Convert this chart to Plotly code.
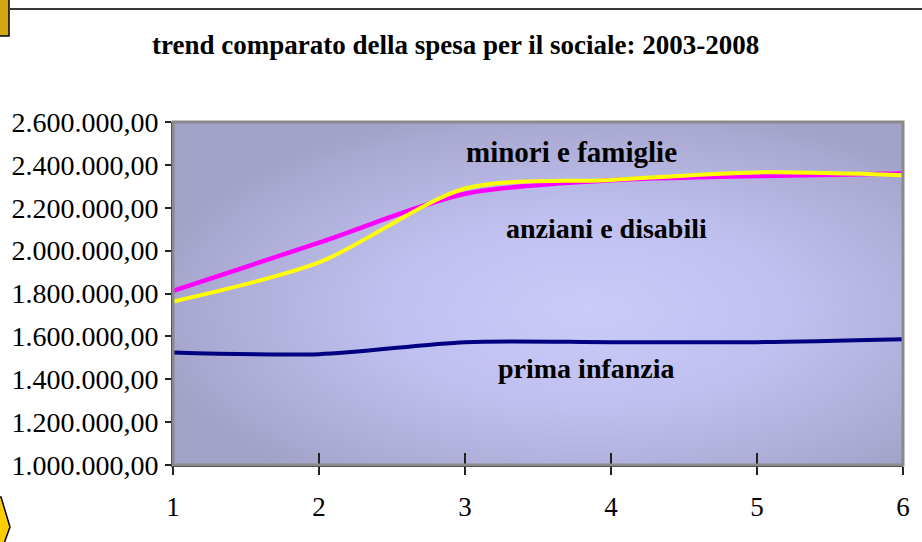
import base64
import plotly.graph_objects as go

# ---- data ----
years = [1, 2, 3, 4, 5, 6]
minori_famiglie = [1812000, 2037000, 2265000, 2328000, 2348000, 2360000]
anziani_disabili = [1762000, 1945000, 2290000, 2330000, 2365000, 2352000]
prima_infanzia = [1525000, 1517000, 1573000, 1573000, 1573000, 1587000]
x_ticks = [1, 2, 3, 4, 5, 6]

title_text = "trend comparato della spesa per il sociale: 2003-2008"
labels = [
    ("minori e famiglie", 3.73, 2458000, 29),
    ("anziani e disabili", 3.97, 2101000, 28),
    ("prima infanzia", 3.83, 1450000, 28),
]

W, H = 922, 542
L, R, T, B = 173, 903, 122, 465

def px(xp):
    return (xp - L) / (R - L)

def py(yp):
    return (B - yp) / (B - T)

svg = (
    '<svg xmlns="http://www.w3.org/2000/svg" width="730" height="343" viewBox="0 0 730 343" preserveAspectRatio="none">'
    '<defs><radialGradient id="g" cx="0.57" cy="0.55" r="0.62" fx="0.57" fy="0.55">'
    '<stop offset="0" stop-color="#cbcbfa"/>'
    '<stop offset="0.45" stop-color="#c0c0f0"/>'
    '<stop offset="1" stop-color="#a2a2c8"/>'
    '</radialGradient></defs>'
    '<rect x="0" y="0" width="730" height="343" fill="url(#g)"/></svg>'
)
svg_uri = "data:image/svg+xml;base64," + base64.b64encode(svg.encode()).decode()

fig = go.Figure()
fig.add_trace(go.Scatter(x=years, y=prima_infanzia, mode="lines",
                         line=dict(color="#000080", width=4, shape="spline", smoothing=0.8),
                         name="prima infanzia"))
fig.add_trace(go.Scatter(x=years, y=minori_famiglie, mode="lines",
                         line=dict(color="#ff00ff", width=4.5, shape="spline", smoothing=0.8),
                         name="minori e famiglie"))
fig.add_trace(go.Scatter(x=years, y=anziani_disabili, mode="lines",
                         line=dict(color="#ffff00", width=4, shape="spline", smoothing=0.8),
                         name="anziani e disabili"))

for txt, xv, yv, fs in labels:
    fig.add_annotation(x=xv, y=yv, text="<b>" + txt + "</b>", showarrow=False,
                       font=dict(family="Liberation Serif", size=fs, color="black"),
                       xanchor="center", yanchor="middle")

fig.add_annotation(x=px(455), y=py(45), xref="paper", yref="paper",
                   text="<b>" + title_text + "</b>", showarrow=False,
                   font=dict(family="Liberation Serif", size=27, color="black"),
                   xanchor="center", yanchor="middle")

shapes = [
    # plot frame (gray)
    dict(type="rect", xref="paper", yref="paper", x0=0, x1=1, y0=0, y1=1,
         line=dict(color="#8a8a8a", width=3), layer="above"),
    # top rule
    dict(type="line", xref="paper", yref="paper", x0=px(10), x1=px(922), y0=py(9), y1=py(9),
         line=dict(color="#3a3a3a", width=2)),
    # gold box top-left
    dict(type="rect", xref="paper", yref="paper", x0=px(-2), x1=px(9), y0=py(-2), y1=py(36),
         fillcolor="#d4a514", line=dict(color="#000000", width=1.5)),
    # yellow arrow bottom-left
    dict(type="path", xref="paper", yref="paper",
         path="M %f,%f L %f,%f L %f,%f L %f,%f Z" % (px(-2), py(497), px(1), py(497),
                                                      px(10), py(527), px(-2), py(560)),
         fillcolor="#ffcc00", line=dict(color="#000000", width=1.5)),
]

fig.update_layout(
    width=W, height=H,
    margin=dict(l=L, r=W - R, t=T, b=H - B, pad=0, autoexpand=False),
    paper_bgcolor="white",
    plot_bgcolor="rgba(0,0,0,0)",
    separators=",.",
    showlegend=False,
    shapes=shapes,
    images=[dict(source=svg_uri, xref="paper", yref="paper", x=0, y=1, sizex=1, sizey=1,
                 sizing="stretch", layer="below", xanchor="left", yanchor="top")],
    font=dict(family="Liberation Serif", color="black"),
    xaxis=dict(range=[1, 6], tickvals=x_ticks, ticktext=[str(v) for v in x_ticks],
               automargin=False,
               showgrid=False, zeroline=False, showline=True, linecolor="#222222", linewidth=2,
               ticks="outside", ticklen=8, tickcolor="#222222", tickwidth=1.5,
               tickfont=dict(size=27, family="Liberation Serif"), ticklabelstandoff=9),
    yaxis=dict(range=[1000000, 2600000], dtick=200000, tickformat=",.2f",
               automargin=False,
               showgrid=False, zeroline=False, showline=True, linecolor="#222222", linewidth=2,
               ticks="outside", ticklen=6, tickcolor="#222222", tickwidth=1.5,
               tickfont=dict(size=28, family="Liberation Serif"), ticklabelstandoff=1),
    xaxis2=dict(range=[1, 6], tickvals=x_ticks, overlaying="x", showticklabels=False,
                automargin=False,
                showgrid=False, zeroline=False, ticks="inside", ticklen=12,
                tickcolor="#222222", tickwidth=1.5, anchor="y"),
)
fig.add_trace(go.Scatter(x=[None], y=[None], xaxis="x2", showlegend=False, hoverinfo="skip"))

fig.write_html("out.html", config={"displayModeBar": False},
               post_script="document.body.style.margin='0';")
